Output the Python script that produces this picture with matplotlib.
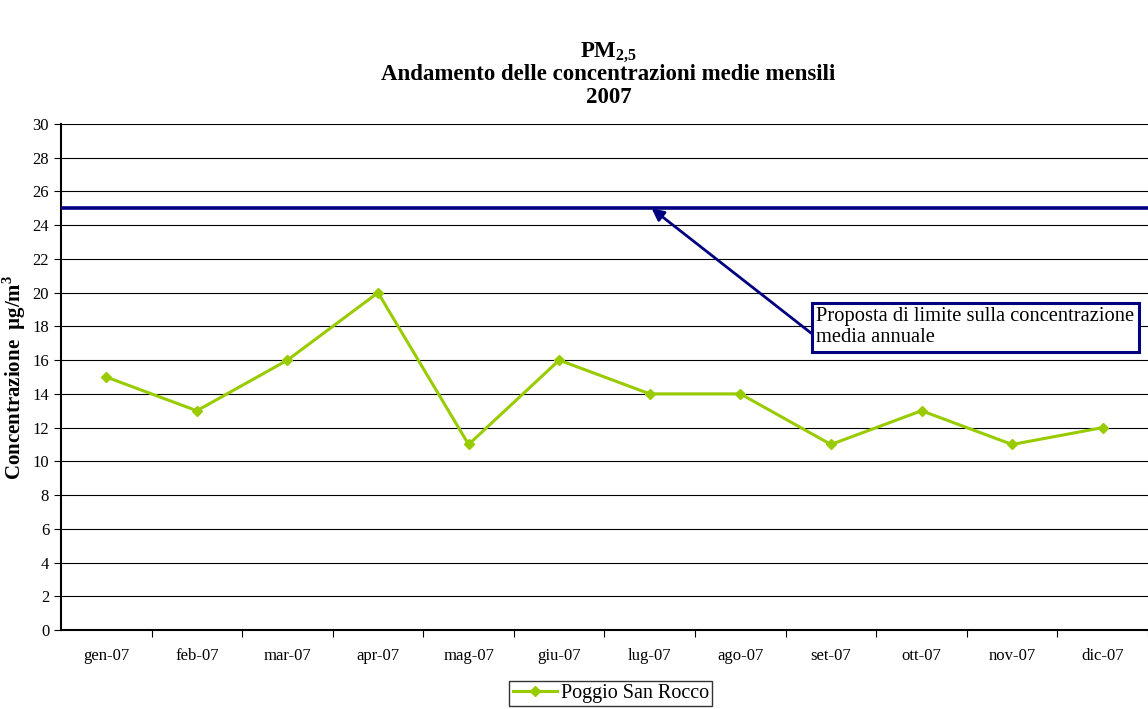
import matplotlib
matplotlib.use("Agg")
import matplotlib.pyplot as plt

plt.rcParams["font.family"] = ["Liberation Serif", "DejaVu Serif"]
plt.rcParams["mathtext.fontset"] = "custom"
plt.rcParams["mathtext.rm"] = "Liberation Serif"
plt.rcParams["mathtext.bf"] = "Liberation Serif:bold"

# dati
mesi = ["gen-07", "feb-07", "mar-07", "apr-07", "mag-07", "giu-07",
        "lug-07", "ago-07", "set-07", "ott-07", "nov-07", "dic-07"]
poggio_san_rocco = [15, 13, 16, 20, 11, 16, 14, 14, 11, 13, 11, 12]
limite = 25

fig = plt.figure(figsize=(11.48, 7.09), dpi=100)
ax = fig.add_axes([0.0531, 0.1114, 0.9469, 0.7137])

x = list(range(len(mesi)))
ax.plot(x, poggio_san_rocco, color="#99CC00", linewidth=2.2, marker="D",
        markersize=5, label="Poggio San Rocco")
ax.axhline(limite, color="#000080", linewidth=2.6, zorder=3)

ax.set_xlim(-0.5, len(mesi) - 0.5)
ax.set_ylim(0, 30)
ax.set_yticks(range(0, 31, 2))
ax.grid(axis="y", color="black", linewidth=0.8)
ax.set_axisbelow(True)

ax.set_xticks([i + 0.5 for i in range(len(mesi))])
ax.set_xticklabels([])
ax.set_xticks(x, minor=True)
ax.set_xticklabels(mesi, minor=True)
ax.tick_params(axis="x", which="minor", length=0, pad=13, labelsize=12)
ax.tick_params(axis="x", which="major", length=5, direction="out")
ax.tick_params(axis="y", length=5, direction="out", labelsize=12)

for s in ["top", "right"]:
    ax.spines[s].set_visible(False)
ax.spines["left"].set_linewidth(1.5)
ax.spines["bottom"].set_linewidth(1.5)

# etichetta asse y
fig.text(0.0125, 0.468, r"Concentrazione  µg/m$^\mathbf{3}$", fontsize=15,
         fontweight="bold", rotation=90, ha="center", va="center")

ax.annotate("Proposta di limite sulla concentrazione\nmedia annuale",
            xy=(6.02, 25), xytext=(7.84, 16.75),
            fontsize=14.8, ha="left", va="bottom", linespacing=1.2,
            bbox=dict(boxstyle="square,pad=0.2", fc="white",
                      ec="#000080", lw=2.2),
            arrowprops=dict(arrowstyle="-|>", color="#000080", lw=2,
                            mutation_scale=18, shrinkA=0, shrinkB=0,
                            relpos=(0, 0.25)),
            zorder=5)

fig.text(0.53, 0.927, r"$\mathbf{PM}_{\mathbf{2{,}5}}$", ha="center",
         va="center", fontsize=16.5)
fig.text(0.53, 0.895, "Andamento delle concentrazioni medie mensili",
         ha="center", va="center", fontsize=16.5, fontweight="bold")
fig.text(0.53, 0.862, "2007", ha="center", va="center", fontsize=16.5,
         fontweight="bold")

leg = fig.legend(loc="center", bbox_to_anchor=(0.532, 0.022), fontsize=14.5,
                 frameon=True, fancybox=False, edgecolor="black",
                 handlelength=2.2, borderpad=0.15, handletextpad=0.2)
leg.get_frame().set_linewidth(1.0)

fig.savefig("out.png", dpi=100)
